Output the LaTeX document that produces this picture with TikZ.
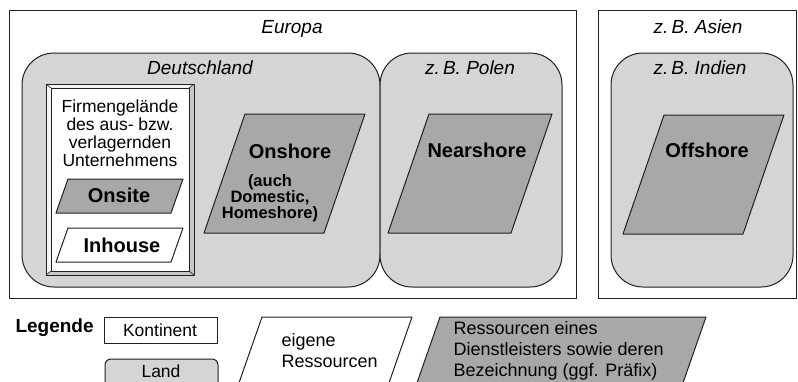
\documentclass[tikz,border=0pt]{standalone}
\usepackage{fontspec}
\setmainfont{Liberation Sans}

\definecolor{landgray}{RGB}{212,213,215}
\definecolor{resgray}{RGB}{167,168,170}
\definecolor{linegray}{RGB}{35,31,32}

\begin{document}
\begin{tikzpicture}[x=1pt, y=-1pt, line join=round,
    continent/.style={draw=linegray, line width=1pt, fill=white},
    country/.style={draw=linegray, line width=1pt, fill=landgray, rounded corners=32pt},
    ownres/.style={draw=linegray, line width=1pt, fill=white},
    extres/.style={draw=linegray, line width=1pt, fill=resgray},
    regionlabel/.style={anchor=base, font=\fontsize{19}{20}\selectfont\itshape},
    reslabel/.style={anchor=base, font=\fontsize{20}{20}\selectfont\bfseries},
    plaintext/.style={anchor=base, align=center, font=\fontsize{17.5}{18}\selectfont},
    legtext/.style={anchor=base west, align=left, font=\fontsize{18}{21}\selectfont}]

    \useasboundingbox (0,0) rectangle (798,381);
    \clip (0,0) rectangle (798,381);

    \def\europa{(9,10) rectangle (576,298)}
    \def\asien{(598,10) rectangle (796,298)}
    \def\deutschland{(22,53) rectangle (380,287)}
    \def\polen{(380,53) rectangle (562,287)}
    \def\indien{(611,53) rectangle (793,287)}

    % Continents and countries
    \draw[continent] \europa;
    \draw[continent] \asien;
    \draw[country] \deutschland;
    \draw[country] \polen;
    \draw[country] \indien;

    \node[regionlabel] (europa) at (292,33) {Europa};
    \node[regionlabel] (asien) at (698,33) {z.\,B. Asien};
    \node[regionlabel] (deutschland) at (200,74) {Deutschland};
    \node[regionlabel] (polen) at (470,74) {z.\,B. Polen};
    \node[regionlabel] (indien) at (700,74) {z.\,B. Indien};

    % Company premises: bevelled double frame
    \fill[black!22] (46,84) rectangle (194,275);
    \fill[black!4] (46,84) -- (194,84) -- (189,88) -- (51,88) -- (51,271) -- (46,275) -- cycle;
    \draw[linegray, line width=0.8pt] (46,84) rectangle (194,275);
    \draw[linegray, line width=0.8pt, fill=white] (51,88) rectangle (189,271);
    \draw[linegray, line width=0.6pt] (46,84) -- (51,88) (194,84) -- (189,88)
        (194,275) -- (189,271) (46,275) -- (51,271);
    % multi-line texts sit on the baseline of their last line
    \node[plaintext] (firma) at (120,166)
        {Firmengelände\\des aus- bzw.\\verlagernden\\Unternehmens};

    \def\onsite{(68,179) -- (183,179) -- (171,213) -- (56,213) -- cycle}
    \def\inhouse{(68,228) -- (183,228) -- (171,262) -- (56,262) -- cycle}
    \def\onshore{(245,114) -- (365,114) -- (324,233) -- (204,233) -- cycle}
    \def\nearshore{(429,114) -- (552,114) -- (511,233) -- (388,233) -- cycle}
    \def\offshore{(664,115) -- (784,115) -- (743,234) -- (623,234) -- cycle}

    % Resources and their names
    \draw[extres] \onsite;
    \draw[ownres] \inhouse;
    \draw[extres] \onshore;
    \draw[extres] \nearshore;
    \draw[extres] \offshore;

    \node[reslabel] (onsite) at (119,202) {Onsite};
    \node[reslabel] (inhouse) at (122,252) {Inhouse};
    \node[reslabel] (onshore) at (290,158) {Onshore};
    \node[reslabel, align=center, font=\fontsize{16.5}{16}\selectfont\bfseries]
        (domestic) at (270,218) {(auch\\Domestic,\\Homeshore)};
    \node[reslabel] (nearshore) at (477,157) {Nearshore};
    \node[reslabel] (offshore) at (707,157) {Offshore};

    % Legend
    \node[anchor=base west, font=\fontsize{19}{20}\selectfont\bfseries] (legende) at (12,332) {Legende};
    \draw[continent] (104,317) rectangle (217,343);
    \node[plaintext] (kontinent) at (160,336) {Kontinent};
    \draw[country, rounded corners=6pt] (105,359) rectangle (218,400);
    \node[plaintext] (land) at (161,377) {Land};
    \draw[ownres] (262,317) -- (412,317) -- (383,400) -- (233,400) -- cycle;
    \node[legtext] (eigene) at (278,367) {eigene\\Ressourcen};
    \draw[extres] (440,317) -- (706,317) -- (677,400) -- (411,400) -- cycle;
    \node[legtext] (fremde) at (450,376)
        {Ressourcen eines\\Dienstleisters sowie deren\\Bezeichnung (ggf. Präfix)};

\end{tikzpicture}
\end{document}
